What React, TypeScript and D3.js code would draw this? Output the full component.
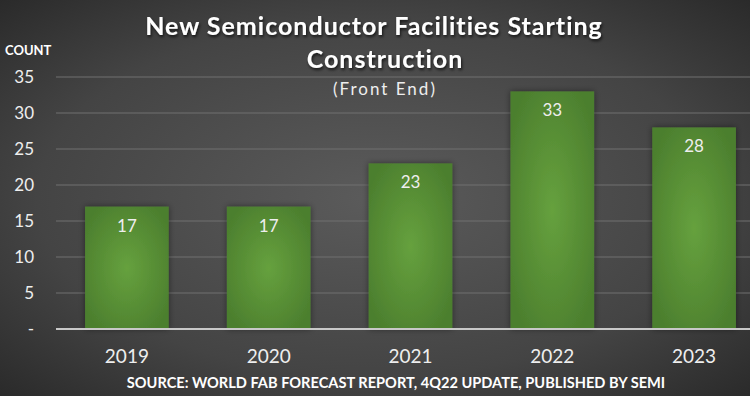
import React from 'react'
import * as d3 from 'd3'

const years = ['2019', '2020', '2021', '2022', '2023']
const counts = [17, 17, 23, 33, 28]
const yTicks = [0, 5, 10, 15, 20, 25, 30, 35]
const tickLabels = ['-', '5', '10', '15', '20', '25', '30', '35']

const W = 750
const H = 396
const font = 'Lato, "Open Sans", sans-serif'

export default function App() {
  const x = d3.scaleBand<string>()
    .domain(years)
    .range([56, 765])
    .paddingInner(0.41)
    .paddingOuter(0.205)
  const y = d3.scaleLinear().domain([0, 35]).range([329, 77])

  return (
    <svg width={W} height={H} style={{ position: 'absolute', left: 0, top: 0 }}>
      <defs>
        <radialGradient id="bg" cx="0.5" cy="0.5" r="0.75">
          <stop offset="0" stopColor="#5b5b5b" />
          <stop offset="0.6" stopColor="#444444" />
          <stop offset="1" stopColor="#262626" />
        </radialGradient>
        <radialGradient id="bar" cx="0.5" cy="0.5" r="0.6">
          <stop offset="0" stopColor="#66a13e" />
          <stop offset="1" stopColor="#4c7f2e" />
        </radialGradient>
        <filter id="shadow" x="-10%" y="-10%" width="120%" height="130%">
          <feDropShadow dx="1" dy="2" stdDeviation="1.5" floodColor="#000" floodOpacity="0.7" />
        </filter>
        <filter id="barShadow" x="-20%" y="-10%" width="140%" height="120%">
          <feDropShadow dx="0" dy="0" stdDeviation="3" floodColor="#000" floodOpacity="0.45" />
        </filter>
      </defs>
      <rect x={0} y={0} width={W} height={H} fill="url(#bg)" />

      {/* gridlines */}
      {yTicks.slice(1).map(t => (
        <line key={t} x1={56} x2={W} y1={y(t)} y2={y(t)} stroke="#707070" strokeWidth={1} />
      ))}

      {/* y tick labels */}
      {yTicks.map((t, i) => (
        <text key={t} x={34} y={y(t) + 6} textAnchor="end" fill="#eeeeee"
          fontFamily={font} fontSize={17}>{tickLabels[i]}</text>
      ))}
      <text x={5} y={55} fill="#ffffff" fontFamily={font} fontSize={13} fontWeight="bold">COUNT</text>

      {/* bars */}
      {years.map((yr, i) => (
        <rect key={yr} x={x(yr)} y={y(counts[i])} width={x.bandwidth()}
          height={y(0) - y(counts[i])} fill="url(#bar)" filter="url(#barShadow)" />
      ))}
      {years.map((yr, i) => (
        <text key={yr} x={x(yr)! + x.bandwidth() / 2} y={y(counts[i]) + 25} textAnchor="middle"
          fill="#eeeeee" fontFamily={font} fontSize={17}>{counts[i]}</text>
      ))}

      <line x1={56} x2={W} y1={y(0)} y2={y(0)} stroke="#c8c8c8" strokeWidth={2} />

      {/* x labels */}
      {years.map(yr => (
        <text key={yr} x={x(yr)! + x.bandwidth() / 2} y={363} textAnchor="middle"
          fill="#eeeeee" fontFamily={font} fontSize={19}>{yr}</text>
      ))}

      {/* title */}
      <g filter="url(#shadow)" fill="#ffffff" fontFamily={font} fontWeight="bold" textAnchor="middle"
        letterSpacing={1}>
        <text x={374} y={35} fontSize={25}>New Semiconductor Facilities Starting</text>
        <text x={385} y={68} fontSize={25}>Construction</text>
      </g>
      <text x={385} y={95} fill="#eeeeee" fontFamily={font} fontSize={17} textAnchor="middle"
        letterSpacing={2}>(Front End)</text>

      <text x={396} y={388} fill="#ffffff" fontFamily={font} fontSize={14.6} fontWeight="bold"
        textAnchor="middle">SOURCE: WORLD FAB FORECAST REPORT, 4Q22 UPDATE, PUBLISHED BY SEMI</text>
    </svg>
  )
}
